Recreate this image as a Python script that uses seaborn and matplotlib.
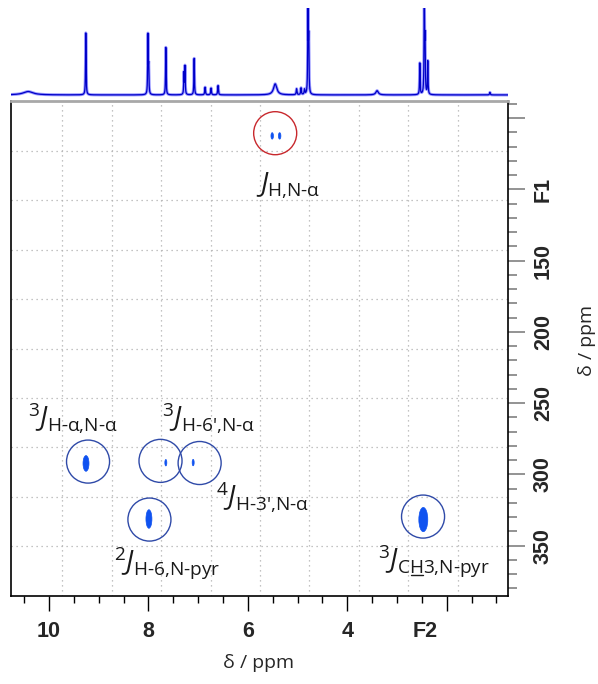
import numpy as np
import matplotlib
matplotlib.use('Agg')
import matplotlib.pyplot as plt
import matplotlib.transforms as mtransforms
from matplotlib.patches import Ellipse
from matplotlib.lines import Line2D
from matplotlib.ticker import MultipleLocator
import seaborn as sns

# 1D proton spectrum (peak list: shift / ppm, relative height, half width / ppm)
h_shift = [10.42, 9.26, 8.01, 7.995, 7.65, 7.285, 7.265, 7.08, 6.86, 6.74, 6.60,
           5.45, 5.02, 4.93, 4.86, 4.79, 4.775, 3.40, 2.54, 2.45, 2.435, 2.38, 1.13]
h_height = [0.04, 0.73, 0.69, 0.30, 0.56, 0.25, 0.33, 0.43, 0.09, 0.08, 0.11,
            0.13, 0.07, 0.08, 0.06, 1.10, 0.60, 0.05, 0.37, 1.10, 0.60, 0.39, 0.03]
h_hwhm = [0.12, 0.006, 0.006, 0.006, 0.006, 0.006, 0.006, 0.006, 0.008, 0.008, 0.008,
          0.04, 0.008, 0.008, 0.008, 0.006, 0.006, 0.03, 0.006, 0.006, 0.006, 0.006, 0.008]

# 2D cross peaks (F2 = 1H, F1 = 15N)
cross_f2 = [5.51, 5.36, 9.256, 7.65, 7.10, 7.99, 2.47]
cross_f1 = [62.4, 62.4, 292.3, 291.8, 291.7, 331.3, 331.7]
cross_w2 = [0.05, 0.05, 0.12, 0.04, 0.04, 0.12, 0.18]
cross_w1 = [4.5, 4.5, 11, 4.5, 4.5, 13, 17]

# marked correlations
circle_f2 = [5.45, 9.215, 7.757, 6.97, 7.98, 2.475]
circle_f1 = [60.5, 291, 290.5, 292, 331.7, 329.6]
circle_color = ['#c8282d', '#2f4aa8', '#2f4aa8', '#2f4aa8', '#2f4aa8', '#2f4aa8']

labels = [r'$\mathit{J}_{\text{H,N-α}}$',
          r'$^{3}\mathit{J}_{\text{H-α,N-α}}$',
          r"$^{3}\mathit{J}_{\text{H-6',N-α}}$",
          r"$^{4}\mathit{J}_{\text{H-3',N-α}}$",
          r'$^{2}\mathit{J}_{\text{H-6,N-pyr}}$']
label_xy = [(5.19, 97), (9.52, 260), (6.80, 260), (5.70, 316), (7.63, 362)]
ch3_label = r'$^{3}\mathit{J}_{\text{CH3,N-pyr}}$'
ch3_xy = (3.38, 361)

x_ticks = [10, 8, 6, 4, 2]
x_ticklabels = ['10', '8', '6', '4', '']
y_ticks = [50, 100, 150, 200, 250, 300, 350]
y_ticklabels = ['', 'F1', '150', '200', '250', '300', '350']

sns.set_style('white')
plt.rcParams['font.family'] = ['Open Sans', 'DejaVu Sans']
plt.rcParams['mathtext.fontset'] = 'custom'
plt.rcParams['mathtext.rm'] = 'Open Sans'
plt.rcParams['mathtext.it'] = 'Open Sans:italic'
plt.rcParams['mathtext.bf'] = 'Open Sans:bold'

W, H = 598, 684
fig = plt.figure(figsize=(W / 100, H / 100), dpi=100)


def box(x0, y0, x1, y1):
    return [x0 / W, 1 - y1 / H, (x1 - x0) / W, (y1 - y0) / H]


ax = fig.add_axes(box(11, 101, 508.3, 595.5))
ax1d = fig.add_axes(box(11, 8, 508.3, 99))

xlim = (10.765, 0.76)
ylim = (385, 37.9)

# --- 1D projection on top
ppm = np.linspace(xlim[0], xlim[1], 10000)
spec = np.zeros_like(ppm)
for c, h, g in zip(h_shift, h_height, h_hwhm):
    spec += h * g ** 2 / ((ppm - c) ** 2 + g ** 2)
sns.lineplot(x=ppm, y=spec, ax=ax1d, color='#9a9aff', linewidth=2.2, estimator=None, sort=False)
sns.lineplot(x=ppm, y=spec, ax=ax1d, color='#0000c8', linewidth=0.9, estimator=None, sort=False)
ax1d.set_xlim(xlim)
ax1d.set_ylim(-0.048, 1.024)
ax1d.axis('off')

# --- 2D map
ax.set_xlim(xlim)
ax.set_ylim(ylim)
for gx in [9.74, 8.74, 7.75, 6.75, 5.76, 4.76, 3.77, 2.77, 1.77]:
    ax.axvline(gx, color='#b0b0b0', lw=0.9, ls=(0, (1, 3)), zorder=0)
for gy in [72.9, 107.6, 142.3, 177.0, 211.7, 246.4, 281.1, 315.8, 350.5]:
    ax.axhline(gy, color='#b0b0b0', lw=0.9, ls=(0, (1, 3)), zorder=0)

for f2, f1, w2, w1 in zip(cross_f2, cross_f1, cross_w2, cross_w1):
    ax.add_patch(Ellipse((f2, f1), w2, w1, color='#0f52f0', lw=0.5, zorder=3))

for f2, f1, col in zip(circle_f2, circle_f1, circle_color):
    sns.scatterplot(x=[f2], y=[f1], ax=ax, s=960, marker='o', facecolor='none',
                    edgecolor=col, linewidth=1.0, zorder=4, legend=False)

lab_size = 19.5
for txt, (lx, ly) in zip(labels, label_xy):
    ax.text(lx, ly, txt, fontsize=lab_size, ha='center', va='center', color='#1a1a1a')
ch3 = ax.text(ch3_xy[0], ch3_xy[1], ch3_label, fontsize=lab_size, ha='left', va='center',
              color='#1a1a1a')

# axes decorations
for side in ['left', 'bottom', 'right']:
    ax.spines[side].set_color('black')
    ax.spines[side].set_linewidth(1.2)
ax.spines['top'].set_color('#a8a8a8')
ax.spines['top'].set_linewidth(2)

ax.set_xticks(x_ticks)
ax.set_xticklabels(x_ticklabels)
ax.xaxis.set_minor_locator(MultipleLocator(0.5))
ax.tick_params(axis='x', which='major', bottom=True, direction='out', length=11,
               width=1, color='black', pad=7.5, labelsize=15.5)
ax.tick_params(axis='x', which='minor', bottom=True, direction='out', length=5,
               width=1, color='black')

ax.yaxis.tick_right()
ax.set_yticks(y_ticks)
ax.set_yticklabels(y_ticklabels)
ax.yaxis.set_minor_locator(MultipleLocator(10))
ax.tick_params(axis='y', which='major', right=True, left=False, direction='out', length=12.2,
               width=1.3, color='#8a8a8a', pad=5.5, labelsize=15.5, labelrotation=90)
ax.tick_params(axis='y', which='minor', right=True, left=False, direction='out', length=6.5,
               width=1.3, color='#8a8a8a')

for lab in ax.get_xticklabels() + ax.get_yticklabels():
    lab.set_fontfamily('Liberation Sans')
    lab.set_fontweight('bold')
for lab in ax.get_yticklabels():
    lab.set_va('center')

trans = mtransforms.blended_transform_factory(ax.transData, ax.transAxes)
ax.text(2.43, -0.0516, 'F2', transform=trans, ha='center', va='top', fontsize=15.5,
        fontweight='bold', family='Liberation Sans')

fig.text(259 / W, 1 - 663 / H, 'δ / ppm', ha='center', va='center', fontsize=14)
fig.text(587 / W, 1 - 340 / H, 'δ / ppm', ha='center', va='center', fontsize=14, rotation=90)

# underline the H in CH3 (mathtext has no \underline)
fig.canvas.draw()
renderer = fig.canvas.get_renderer()


def text_width(s):
    t = ax.text(ch3_xy[0], ch3_xy[1], s, fontsize=lab_size, ha='left', va='center')
    w = t.get_window_extent(renderer).width
    t.remove()
    return w


bb = ch3.get_window_extent(renderer)
x_a = bb.x0 + text_width(r'$^{3}\mathit{J}_{\text{C}}$')
x_b = bb.x0 + text_width(r'$^{3}\mathit{J}_{\text{CH}}$')
y_u = bb.y0 + 4
(fa, fy), (fb, _) = fig.transFigure.inverted().transform([(x_a, y_u), (x_b, y_u)])
fig.add_artist(Line2D([fa, fb], [fy, fy], color='#1a1a1a', lw=1.0))

fig.savefig('out.png', dpi=100)
